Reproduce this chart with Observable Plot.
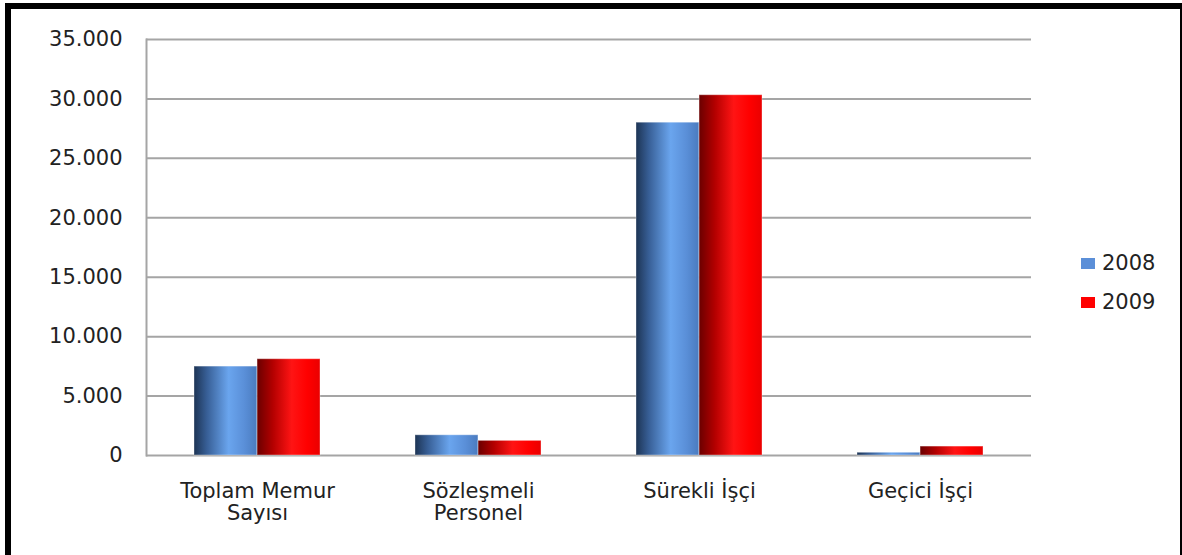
<!DOCTYPE html>
<html>
<head>
<meta charset="utf-8">
<script src="https://cdn.jsdelivr.net/npm/d3@7"></script>
<script src="https://cdn.jsdelivr.net/npm/@observablehq/plot@0.6"></script>
<style>
  html, body { margin: 0; padding: 0; background: #fff; }
  #wrap { position: relative; width: 1182px; height: 555px; overflow: hidden; font-family: "DejaVu Sans", sans-serif; }
  .bar { position: absolute; background: #000; }
  .leg { position: absolute; font-size: 21px; color: #222; line-height: 21px; }
  .sw { position: absolute; width: 14px; height: 11px; }
</style>
</head>
<body>
<div id="wrap">
  <div id="chart"></div>
  <div class="bar" style="left:5px;top:3px;width:1177px;height:6px"></div>
  <div class="bar" style="left:5px;top:3px;width:6px;height:552px"></div>
  <div class="bar" style="left:1180px;top:3px;width:2px;height:552px"></div>
  <div id="legend"></div>
</div>
<script>
const categories = ["Toplam Memur\nSayısı", "Sözleşmeli\nPersonel", "Sürekli İşçi", "Geçici İşçi"];
const years = ["2008", "2009"];
const values2008 = [7480, 1700, 28000, 230];
const values2009 = [8100, 1230, 30310, 750];
const yTicks = [0, 5000, 10000, 15000, 20000, 25000, 30000, 35000];
const legendColors = ["#5b8fd8", "#ff0000"];

const data2008 = categories.map((c, i) => ({cat: c, year: years[0], value: values2008[i]}));
const data2009 = categories.map((c, i) => ({cat: c, year: years[1], value: values2009[i]}));

const fmt = d3.formatLocale({thousands: ".", decimal: ",", grouping: [3], currency: ["", ""]}).format(",");

const W = 1182, H = 555, mL = 146, mR = 151, mT = 39, mB = 100;
const pad = 0.43;
const halfBand = (W - mL - mR) / categories.length * (1 - pad) / 2;

const plot = Plot.plot({
  width: W,
  height: H,
  marginTop: mT,
  marginBottom: mB,
  marginLeft: mL,
  marginRight: mR,
  style: {fontFamily: "DejaVu Sans", fontSize: "21px", color: "#222", background: "transparent"},
  x: {domain: categories, type: "band", paddingInner: pad, paddingOuter: pad / 2, axis: null},
  y: {domain: [0, 35000], axis: null},
  marks: [
    Plot.ruleY(yTicks, {stroke: "#a5a5a5", strokeWidth: 2}),
    Plot.frame({anchor: "left", stroke: "#a5a5a5", strokeWidth: 2}),
    Plot.axisY({ticks: yTicks, tickFormat: fmt, tickSize: 0, tickPadding: 24, label: null}),
    Plot.axisX({tickSize: 0, tickPadding: 27, label: null, lineHeight: 1.05}),
    Plot.barY(data2008, {x: "cat", y: "value", fill: "url(#g2008)", insetRight: halfBand, stroke: "#ffffff", strokeOpacity: 0.35, strokeWidth: 1}),
    Plot.barY(data2009, {x: "cat", y: "value", fill: "url(#g2009)", insetLeft: halfBand, stroke: "#ffffff", strokeOpacity: 0.35, strokeWidth: 1})
  ]
});

const defs = d3.select(plot).insert("defs", ":first-child");
const gb = defs.append("linearGradient").attr("id", "g2008").attr("x1", 0).attr("x2", 1).attr("y1", 0).attr("y2", 0);
[["0%", "#1d3454"], ["20%", "#375e95"], ["55%", "#6aa5ee"], ["80%", "#5a8fd8"], ["100%", "#4a7bbf"]]
  .forEach(([o, c]) => gb.append("stop").attr("offset", o).attr("stop-color", c));
const gr = defs.append("linearGradient").attr("id", "g2009").attr("x1", 0).attr("x2", 1).attr("y1", 0).attr("y2", 0);
[["0%", "#6a0000"], ["25%", "#b30000"], ["55%", "#ff1414"], ["80%", "#ff0000"], ["100%", "#ea0000"]]
  .forEach(([o, c]) => gr.append("stop").attr("offset", o).attr("stop-color", c));

document.getElementById("chart").appendChild(plot);

const legend = document.getElementById("legend");
years.forEach((y, i) => {
  const top = 258 + i * 39;
  const sw = document.createElement("div");
  sw.className = "sw";
  sw.style.left = "1081px";
  sw.style.top = top + "px";
  sw.style.background = legendColors[i];
  legend.appendChild(sw);
  const t = document.createElement("div");
  t.className = "leg";
  t.style.left = "1102px";
  t.style.top = (top - 5) + "px";
  t.textContent = y;
  legend.appendChild(t);
});
</script>
</body>
</html>
